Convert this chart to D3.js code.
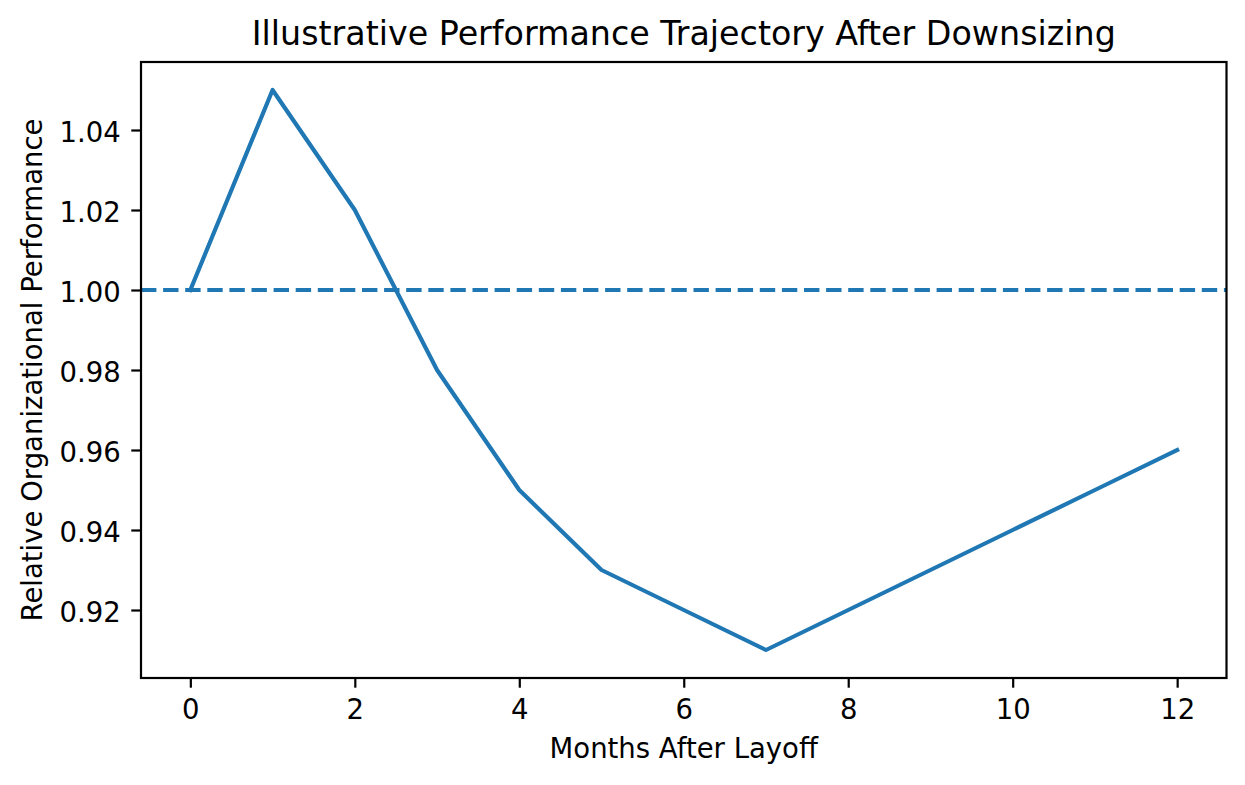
<!DOCTYPE html>
<html>
<head>
<meta charset="utf-8">
<script src="https://cdn.jsdelivr.net/npm/d3@7"></script>
<style>
  html, body { margin: 0; padding: 0; background: #fff; }
  svg { display: block; }
  text { font-family: "DejaVu Sans", sans-serif; fill: #000; }
</style>
</head>
<body>
<svg id="chart" width="1245" height="785"></svg>
<script>
// Data
const months = [0, 1, 2, 3, 4, 5, 6, 7, 8, 9, 10, 11, 12];
const performance = [1.00, 1.05, 1.02, 0.98, 0.95, 0.93, 0.92, 0.91, 0.92, 0.93, 0.94, 0.95, 0.96];
const baseline = 1.00;
const xTicks = [0, 2, 4, 6, 8, 10, 12];
const yTicks = [0.92, 0.94, 0.96, 0.98, 1.00, 1.02, 1.04];
const titleText = "Illustrative Performance Trajectory After Downsizing";
const xLabel = "Months After Layoff";
const yLabel = "Relative Organizational Performance";

const W = 1245, H = 785;
const m = { left: 141, right: 1226.5, top: 62, bottom: 678 };
const color = "#1f77b4";
const fs = 27.5;

const svg = d3.select("#chart");

const x = d3.scaleLinear().domain([-0.6, 12.6]).range([m.left, m.right]);
const y = d3.scaleLinear().domain([0.903, 1.057]).range([m.bottom, m.top]);

// clip
svg.append("defs").append("clipPath").attr("id", "clip")
  .append("rect").attr("x", m.left).attr("y", m.top)
  .attr("width", m.right - m.left).attr("height", m.bottom - m.top);

const plot = svg.append("g").attr("clip-path", "url(#clip)");

// dashed baseline
plot.append("line")
  .attr("x1", m.left).attr("x2", m.right)
  .attr("y1", y(baseline)).attr("y2", y(baseline))
  .attr("stroke", color).attr("stroke-width", 4.17)
  .attr("stroke-dasharray", "15.4,6.7");

// line
const line = d3.line().x((d, i) => x(months[i])).y(d => y(d));
plot.append("path")
  .datum(performance)
  .attr("d", line)
  .attr("fill", "none")
  .attr("stroke", color)
  .attr("stroke-width", 4.17)
  .attr("stroke-linejoin", "round")
  .attr("stroke-linecap", "square");

// axes
const xAxis = d3.axisBottom(x).tickValues(xTicks).tickFormat(d3.format("d"))
  .tickSize(9.7).tickPadding(12);
const yAxis = d3.axisLeft(y).tickValues(yTicks).tickFormat(d3.format(".2f"))
  .tickSize(9.7).tickPadding(10.5);

const gx = svg.append("g").attr("transform", `translate(0,${m.bottom})`).call(xAxis);
const gy = svg.append("g").attr("transform", `translate(${m.left},0)`).call(yAxis);
[gx, gy].forEach(g => {
  g.select(".domain").remove();
  g.selectAll(".tick line").attr("stroke", "#000").attr("stroke-width", 2.2);
  g.selectAll(".tick text").attr("font-size", fs).attr("font-family", "DejaVu Sans").attr("fill", "#000");
});
gy.selectAll(".tick text").attr("dy", "0.4em");

// frame
svg.append("rect")
  .attr("x", m.left).attr("y", m.top)
  .attr("width", m.right - m.left).attr("height", m.bottom - m.top)
  .attr("fill", "none").attr("stroke", "#000").attr("stroke-width", 2.2)
  .attr("stroke-linecap", "square");

// title
svg.append("text")
  .attr("x", (m.left + m.right) / 2).attr("y", 45)
  .attr("text-anchor", "middle").attr("font-size", 33.3)
  .text(titleText);

// x label
svg.append("text")
  .attr("x", (m.left + m.right) / 2).attr("y", 758)
  .attr("text-anchor", "middle").attr("font-size", fs)
  .text(xLabel);

// y label
svg.append("text")
  .attr("transform", `translate(42,${(m.top + m.bottom) / 2}) rotate(-90)`)
  .attr("text-anchor", "middle").attr("font-size", fs)
  .text(yLabel);
</script>
</body>
</html>
